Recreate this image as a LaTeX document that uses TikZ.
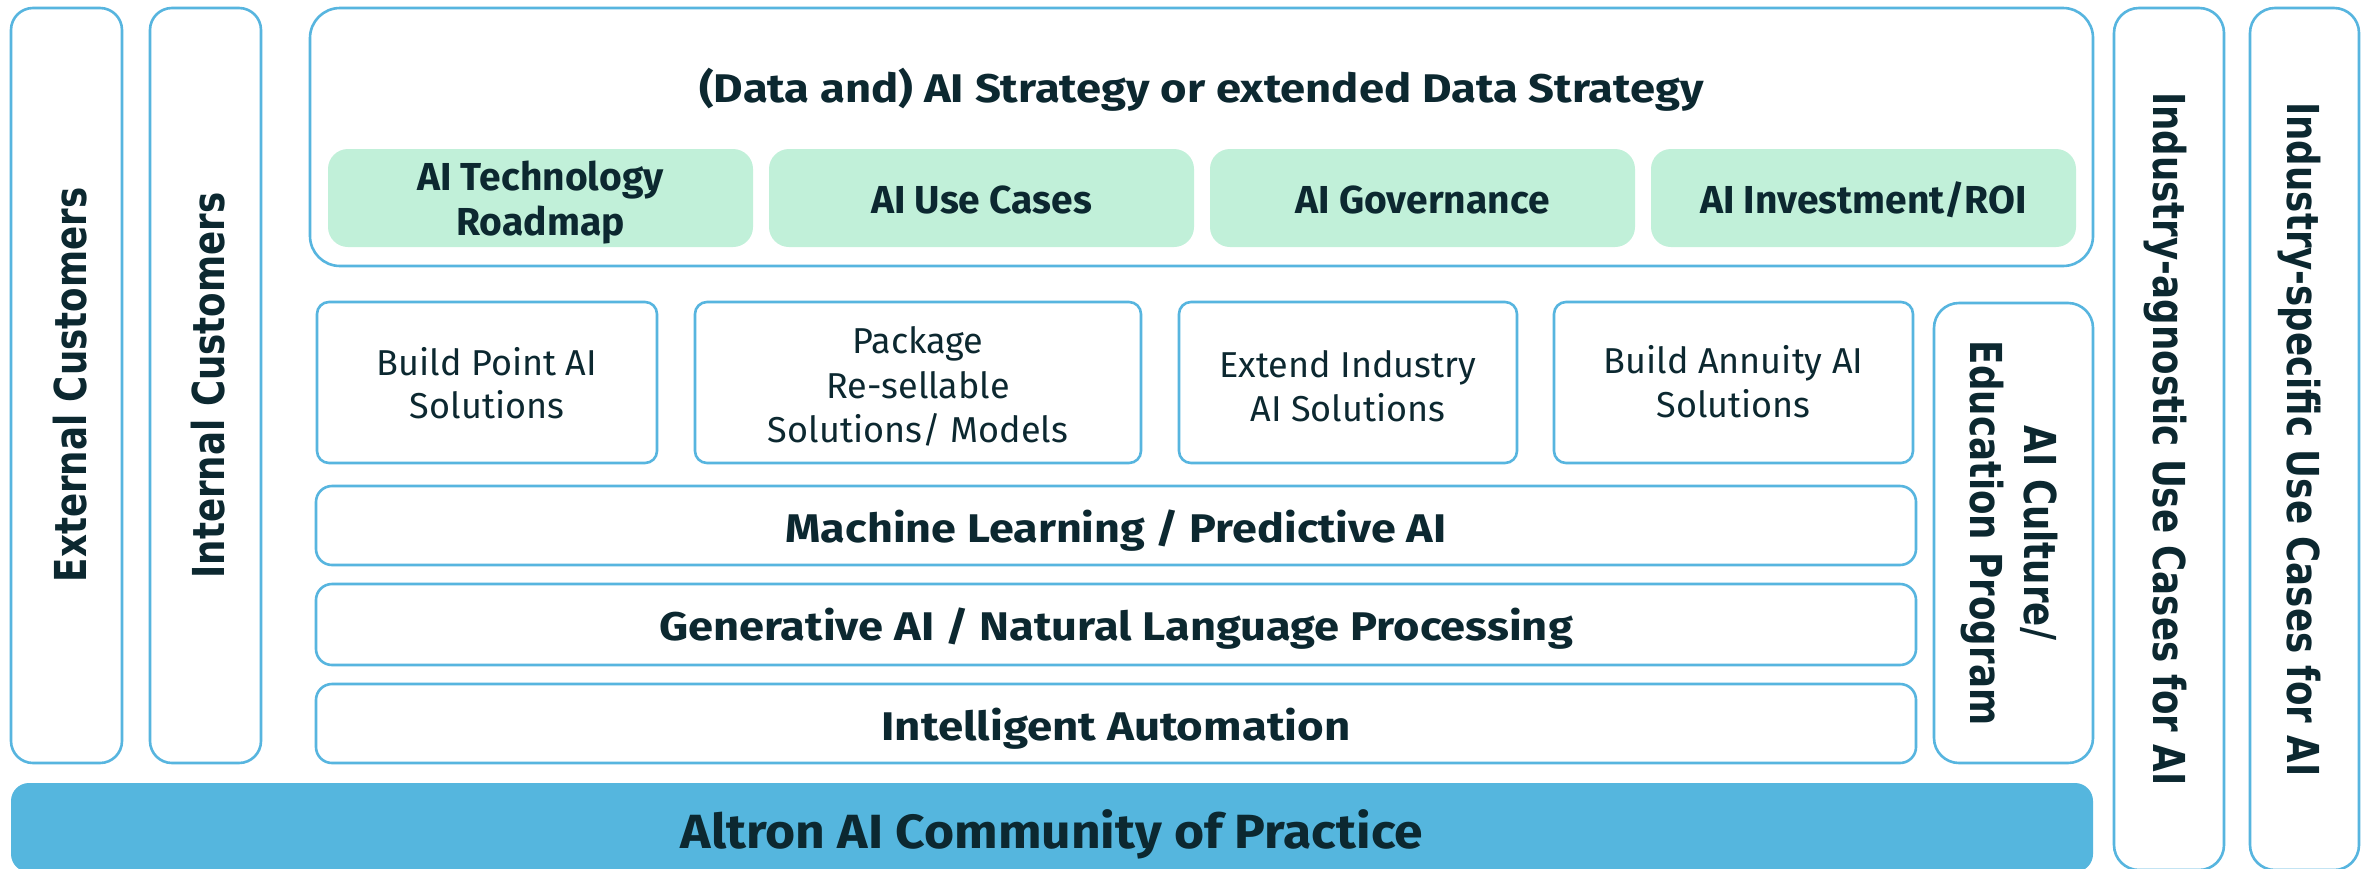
\documentclass[tikz,border=0pt]{standalone}
\usepackage{fontspec}
\setmainfont{Fira Sans}
\newfontfamily\vertfont{DejaVu Sans}
\usepackage{graphicx}
\definecolor{bord}{HTML}{57B5DF}
\definecolor{ink}{HTML}{0C2830}
\definecolor{mint}{HTML}{C1F0D9}
\definecolor{barblue}{HTML}{55B6DE}
\newcommand\vsq[1]{\scalebox{0.81}[1]{#1}}
\newcommand\hsq[2]{\scalebox{#1}[1]{#2}}
\tikzset{
  frame/.style={draw=bord, line width=2.6pt, rounded corners=#1, inner sep=0pt, fill=white},
  frame/.default=20pt,
  greenbox/.style={fill=mint, rounded corners=20pt, inner sep=0pt, minimum height=98pt, minimum width=425pt},
  txt/.style={anchor=base, inner sep=0pt, text=ink},
  title/.style={txt, font=\bfseries\fontsize{40}{48}\selectfont},
  gtxt/.style={txt, font=\bfseries\fontsize{39}{45}\selectfont},
  stxt/.style={txt, font=\fontsize{36}{43}\selectfont},
  ltxt/.style={txt, font=\bfseries\fontsize{40}{48}\selectfont},
  ctxt/.style={txt, font=\bfseries\fontsize{48}{56}\selectfont},
  vtxt/.style={txt, font=\vertfont\bfseries\fontsize{44}{52}\selectfont},
}
\begin{document}
\begin{tikzpicture}[x=1pt,y=-1pt]
\useasboundingbox (0,0) rectangle (2369,868);
\clip (0,0) rectangle (2369,868);
\fill[white] (0,0) rectangle (2369,868);

% side columns
\node[frame=22pt, minimum width=111pt, minimum height=755pt] (ext) at (66.5,385.5) {};
\node[frame=22pt, minimum width=111pt, minimum height=755pt] (int) at (205.5,385.5) {};
\node[vtxt, rotate=90] (extT) at (86,385) {\vsq{External Customers}};
\node[vtxt, rotate=90] (intT) at (224.5,385.5) {\vsq{Internal Customers}};

\node[frame=25pt, minimum width=110pt, minimum height=862pt] (agn) at (2169,439) {};
\node[frame=25pt, minimum width=109pt, minimum height=862pt] (spec) at (2304.5,439) {};
\node[vtxt, rotate=-90] (agnT) at (2153,439) {\vsq{Industry-agnostic Use Cases for AI}};
\node[vtxt, rotate=-90] (specT) at (2287,439.5) {\vsq{Industry-specific Use Cases for AI}};

% strategy block
\node[frame=30pt, minimum width=1783pt, minimum height=258pt] (strat) at (1201.5,137) {};
\node[title] (stratT) at (1201.5,102) {\hsq{1.134}{(Data and) AI Strategy or extended Data Strategy}};
\node[greenbox] (g1) at (540.5,198) {};
\node[greenbox] (g2) at (981.5,198) {};
\node[greenbox] (g3) at (1422.5,198) {};
\node[greenbox] (g4) at (1863.5,198) {};
\node[gtxt] (g1a) at (540.5,190) {AI Technology};
\node[gtxt] (g1b) at (540.5,235) {Roadmap};
\node[gtxt] (g2T) at (981.5,213) {AI Use Cases};
\node[gtxt] (g3T) at (1422.5,213) {AI Governance};
\node[gtxt] (g4T) at (1863.5,213) {AI Investment/ROI};

% solution boxes
\node[frame=12pt, minimum width=340pt, minimum height=161pt] (s1) at (487,382.5) {};
\node[frame=12pt, minimum width=446pt, minimum height=161pt] (s2) at (918,382.5) {};
\node[frame=12pt, minimum width=338pt, minimum height=161pt] (s3) at (1348,382.5) {};
\node[frame=12pt, minimum width=359pt, minimum height=161pt] (s4) at (1733.5,382.5) {};
\node[stxt] (s1a) at (487,375) {Build Point AI};
\node[stxt] (s1b) at (487,418) {Solutions};
\node[stxt] (s2a) at (918,353) {Package};
\node[stxt] (s2b) at (918,398) {Re-sellable};
\node[stxt] (s2c) at (918,442) {Solutions/ Models};
\node[stxt] (s3a) at (1348,377) {Extend Industry};
\node[stxt] (s3b) at (1348,421) {AI Solutions};
\node[stxt] (s4a) at (1733.5,373) {Build Annuity AI};
\node[stxt] (s4b) at (1733.5,417) {Solutions};

% layers
\node[frame=16pt, minimum width=1600pt, minimum height=79pt] (ml) at (1116,525.5) {};
\node[frame=16pt, minimum width=1600pt, minimum height=81pt] (gen) at (1116,624.5) {};
\node[frame=16pt, minimum width=1600pt, minimum height=79pt] (ia) at (1116,723.5) {};
\node[ltxt] (mlT) at (1116,542) {\hsq{1.123}{Machine Learning / Predictive AI}};
\node[ltxt] (genT) at (1116,640) {\hsq{1.131}{Generative AI / Natural Language Processing}};
\node[ltxt] (iaT) at (1116,740) {\hsq{1.14}{Intelligent Automation}};

% culture
\node[frame=25pt, minimum width=159pt, minimum height=460pt] (cult) at (2013.5,533) {};
\node[vtxt, rotate=-90] (cultA) at (2024,533) {\vsq{AI Culture/}};
\node[vtxt, rotate=-90] (cultB) at (1970,533) {\vsq{Education Program}};

% community bar
\node[fill=barblue, rounded corners=18pt, inner sep=0pt, minimum width=2082pt, minimum height=89pt] (bar) at (1052,827.5) {};
\node[ctxt] (barT) at (1052,848) {\hsq{1.075}{Altron AI Community of Practice}};
\end{tikzpicture}
\end{document}
